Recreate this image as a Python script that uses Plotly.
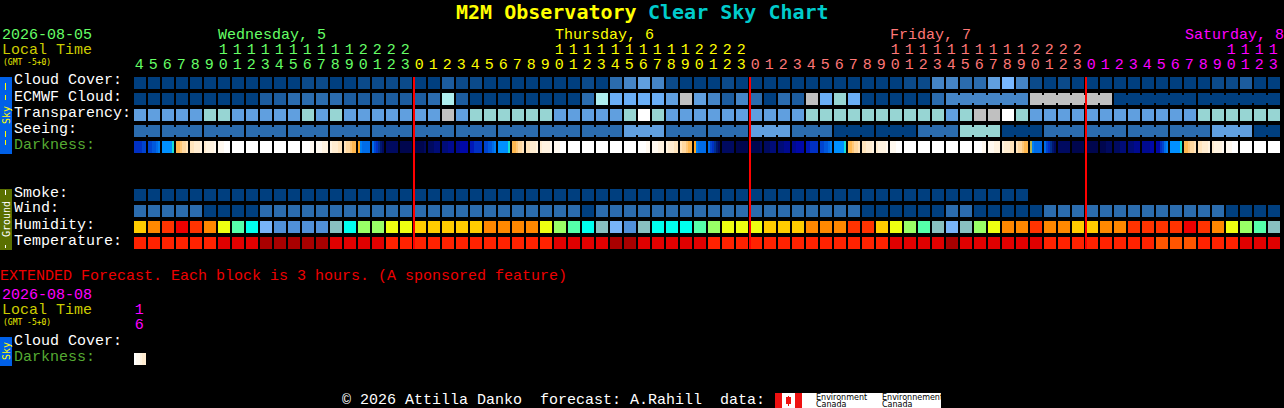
import plotly.graph_objects as go

W, H = 1284, 408
N = 82

# ---- data -------------------------------------------------------------
def cells(s):
    return list(s.replace(" ", ""))

CLOUD_COVER = cells("AAAAAAAAAA AABBAABBBB AACBBAAAAA AABADEFEBA AABAAAAAAA AAAAABBEED DFGEBABAAA AAAAAAABBC AA")
ECMWF_CLOUD = cells("AAAAAAAAAC CDDDDCCCCC CDICAAAAAA AADIHHHHFJ FECEDADCJH THAAAAADEE EEEEJJJJJJ AAAAAAAAAA AA")
TRANSPARENCY = cells("FFFFFTTFFF FFTFTFFFFF FFJFTTTTTT FFFFFTWTFF FFFFFFFFTT TTTTTTTTFT JJWTFFFFFF FFFFFFTTTT TT")
SEEING = cells("DDDDDDDDDD DDDDDDDDDD DDDDDDDDDD DDDDDFFFDD DDDDFFFDDD AAAAAADDDT TTAAADDDDD DDDDDDDFFF AA")
SMOKE = cells("AAAAAAAAAA AAAAAAAAAA AAAAAAAAAA AAAAAAAAAA AAAAAAAAAA AAAAAAAAAA AAAA...... .......... ..")
WIND = cells("DDDDDAAAAD DDDDDDDDDD DDDDDDDDDD DDADDDDDDD DDDDDDDDDD DDAAAAAADD AAAAADDDDD DDDDDDDDAA AA")
HUMIDITY = cells("dcbabceghk jjjjihffee dddddcccce fghikjihhh gfeeedddcc cbbdefgiki feccbccddc cbbbbabcef gi")
TEMPERATURE = cells("nnnnnnmmml llllmmmmnn nnnnnnnnnn mmmmllmmmm mnnnnnnnnn nnnnmmmmlm mmmmmnnnnn nnnooonnnm mm")

SEEING_SPANS = [2] + [3] * 26 + [2]
ECMWF_SPANS = [1] * 58 + [6, 6, 6, 6]

DARKNESS = [
    "gggghh", "hhiijk", "lllllm", "oopqqr", "rrssst", "sttttu", "uuuvvv", "vvvvvv", "vvvvvv", "vvvvvv",
    "vvvvvv", "vvvvvv", "vvvvuu", "uuuttt", "tsssrr", "rqqpoo", "nkjjjj", "jhgxyb", "bbbbbb", "aaaaaa",
    "aaaaab", "bbbccc", "cccddd", "ddeeee", "ffgggg", "hhiijk", "lllllm", "oopqqr", "rrssst", "sttttu",
    "uuuvvv", "vvvvvv", "vvvvvv", "vvvvvv", "vvvvvv", "vvvvvv", "vvvvuu", "uuuttt", "tsssrr", "rqqpoo",
    "nkjjjj", "jhgxyb", "bbbbbb", "aaaaaa", "aaaaab", "bbbccc", "cccddd", "ddeeee", "ffgggg", "hhiijk",
    "lllllm", "oopqqr", "rrssst", "sttttu", "uuuvvv", "vvvvvv", "vvvvvv", "vvvvvv", "vvvvvv", "vvvvvv",
    "vvvvuu", "uuuttt", "tsssrr", "rqqpoo", "wkjjjj", "jhgxyb", "bbbbbb", "aaaaaa", "aaaaaa", "aaabbb",
    "bbbccc", "cccddd", "ddddee", "eeghjk", "lllllm", "oopqqr", "rrssst", "sttttu", "uuuvvv", "vvvvvv",
    "vvvvvv", "vvvvvv",
]
EXT_DARKNESS = ["vuutss"]

HOURS_UNITS = cells("45678901234567890123 012345678901234567890123 012345678901234567890123 01234567890123")
HOURS_TENS = cells("......1111111111 2222 ..........1111111111 2222 ..........1111111111 2222 ..........1111")
DAY_OF_COL = [0] * 20 + [1] * 24 + [2] * 24 + [3] * 14
DAY_COLORS = ["#66ff66", "#ffff00", "#ff7777", "#ff00ff"]
DAY_LABELS = ["Wednesday, 5", "Thursday, 6", "Friday, 7", "Saturday, 8"]
DAY_LABEL_X = [217, 554, 889, 1184]
MIDNIGHT_COLS = [20, 44, 68]
EXT_UNITS = ["6"]
EXT_TENS = ["1"]

ROW_LABELS = [("Cloud Cover:", 81), ("ECMWF Cloud:", 97), ("Transparency:", 113), ("Seeing:", 129),
              ("Smoke:", 193), ("Wind:", 209), ("Humidity:", 225), ("Temperature:", 241),
              ("Cloud Cover:", 341)]
DARK_LABELS = [("Darkness:", 145), ("Darkness:", 357)]

COLORS = {
    "A": "#003f7f", "B": "#0b4a8a", "C": "#1c5c9e", "D": "#2b6cae", "E": "#4585c6", "F": "#609fdf", "G": "#78b8ff",
    "H": "#6aaef5", "I": "#aeeeee", "J": "#c0c0c0", "T": "#97d5d3", "W": "#ffffff",
    "a": "#ee0000", "b": "#ff3300", "c": "#ff8800", "d": "#ffcc00", "e": "#eeff11", "f": "#99ff66", "g": "#55ffaa",
    "h": "#00ffee", "i": "#88c0c0", "j": "#5090d8", "k": "#78b4f8",
    "l": "#a80000", "m": "#e00000", "n": "#ff2200", "o": "#ff5500",
}
DARK_COLORS = {
    "a": "#00064e", "b": "#000a60", "c": "#000c78", "d": "#000a90", "e": "#0008a8", "f": "#0018b8", "g": "#0030c4",
    "h": "#0044d0", "i": "#0058dc", "j": "#006ce8", "k": "#0080f4", "l": "#0090ff", "m": "#18e0d0", "n": "#ffa820",
    "o": "#ffb850", "p": "#ffc878", "q": "#ffd8a0", "r": "#ffe4bc", "s": "#ffecd0", "t": "#fff3e0", "u": "#fff9f0",
    "v": "#ffffff", "w": "#b4b450", "x": "#003090", "y": "#001870",
}

for row in (CLOUD_COVER, ECMWF_CLOUD, TRANSPARENCY, SEEING, SMOKE, WIND, HUMIDITY, TEMPERATURE, DARKNESS,
            HOURS_UNITS, HOURS_TENS):
    assert len(row) == N, len(row)

# ---- scales -----------------------------------------------------------
keys = list(COLORS)
dkeys = list(DARK_COLORS)
def discrete(pal):
    n = len(pal)
    out = []
    for i, c in enumerate(pal):
        out += [[i / n, c], [(i + 1) / n, c]]
    return out
CS = discrete([COLORS[k] for k in keys])
DCS = discrete([DARK_COLORS[k] for k in dkeys])
def zv(ch):
    return keys.index(ch) + 0.5 if ch in COLORS else None
def dz(ch):
    return dkeys.index(ch) + 0.5

# column i is centred on pixel 140 + 14 i, row r on pixel 83 + 16 r
X0 = -140 / 14
X1 = (W - 140) / 14
Y0 = -83 / 16
Y1 = (H - 83) / 16

fig = go.Figure()

main_rows = [CLOUD_COVER, ECMWF_CLOUD, TRANSPARENCY, SEEING, ["."] * N, ["."] * N, ["."] * N,
             SMOKE, WIND, HUMIDITY, TEMPERATURE]
fig.add_trace(go.Heatmap(z=[[zv(c) for c in r] for r in main_rows], x=list(range(N)), y=list(range(11)),
                         colorscale=CS, zmin=0, zmax=len(keys), showscale=False, xgap=2, ygap=4,
                         hoverinfo="skip"))

# bridges joining cells of the same forecast block
def bridge_row(values, spans):
    ends = set()
    p = 0
    for s in spans:
        p += s
        ends.add(p - 1)
    row = []
    for i in range(N - 1):
        row.append(zv(values[i]) if i not in ends else None)
        row.append(None)
    return row[:-1]
bx = []
for i in range(N - 1):
    bx += [i + 3 / 7, i + 4 / 7]
empty = [None] * (2 * (N - 1) - 1)
fig.add_trace(go.Heatmap(z=[empty, bridge_row(ECMWF_CLOUD, ECMWF_SPANS), empty, bridge_row(SEEING, SEEING_SPANS)],
                         x=bx, y=[0, 1, 2, 3], colorscale=CS, zmin=0, zmax=len(keys), showscale=False,
                         xgap=0, ygap=8, hoverinfo="skip"))

# darkness strips with sub-cell gradient
def dark_trace(samples, row):
    xs, zs = [], []
    for i, s in enumerate(samples):
        for k, ch in enumerate(s):
            xs.append(i - 3 / 7 + k / 7)
            zs.append(dz(ch))
        xs.append(i + 3 / 7)
        zs.append(None)
    zs = zs[:-1]
    return go.Heatmap(z=[zs], x=xs, y=[row - 0.375, row + 0.375], colorscale=DCS, zmin=0, zmax=len(dkeys),
                      showscale=False, hoverinfo="skip")
fig.add_trace(dark_trace(DARKNESS, 4))
fig.add_trace(dark_trace(EXT_DARKNESS, 17.25))

# hour digits
MONO = "Liberation Mono"
FS = 15
hour_colors = [DAY_COLORS[d] for d in DAY_OF_COL]
blank = lambda seq: [c if c != "." else "" for c in seq]
text_x = [i - 0.05 for i in range(N)]
fig.add_trace(go.Scatter(x=text_x, y=[(65 - 83) / 16] * N, mode="text", text=HOURS_UNITS,
                         textfont=dict(family=MONO, size=FS, color=hour_colors), textposition="middle center",
                         hoverinfo="skip", showlegend=False))
fig.add_trace(go.Scatter(x=text_x, y=[(50 - 83) / 16] * N, mode="text", text=blank(HOURS_TENS),
                         textfont=dict(family=MONO, size=FS, color=hour_colors), textposition="middle center",
                         hoverinfo="skip", showlegend=False))
fig.add_trace(go.Scatter(x=text_x[:1] * 2, y=[(310 - 83) / 16, (325 - 83) / 16], mode="text", text=EXT_TENS + EXT_UNITS,
                         textfont=dict(family=MONO, size=FS, color="#ff00ff"), textposition="middle center",
                         hoverinfo="skip", showlegend=False))

# ---- text and decoration placed in picture pixels ---------------------
anns = []
def T(text, x, y, color="#ffffff", size=FS, family=MONO, anchor="left", angle=0, bold=False):
    anns.append(dict(text=f"<b>{text}</b>" if bold else text, x=x / W, y=1 - y / H, xref="paper", yref="paper",
                     xanchor=anchor, yanchor="middle", showarrow=False, textangle=angle, borderpad=0,
                     font=dict(family=family, size=size, color=color)))

T("M2M Observatory", 455, 12, "#ffff00", 20, "DejaVu Sans Mono", bold=True)
T("Clear Sky Chart", 647, 12, "#00cccc", 20, "DejaVu Sans Mono", bold=True)
T("2026-08-05", 1, 35, "#66ff66")
T("Local Time", 1, 50, "#cccc00")
T("(GMT -5+0)", 2, 62, "#eeee00", 8, "DejaVu Sans Mono")
for lab, x, c in zip(DAY_LABELS, DAY_LABEL_X, DAY_COLORS):
    T(lab, x, 35, c)
for lab, y in ROW_LABELS:
    T(lab, 13, y)
for lab, y in DARK_LABELS:
    T(lab, 13, y, "#55aa33")
T("EXTENDED Forecast. Each block is 3 hours. (A sponsored feature)", -1, 276, "#ee0000")
T("2026-08-08", 1, 295, "#ff00ff")
T("Local Time", 1, 310, "#cccc00")
T("(GMT -5+0)", 2, 322, "#eeee00", 8, "DejaVu Sans Mono")
T("© 2026 Attilla Danko  forecast: A.Rahill  data:", 341, 400)
T("Sky", 6, 115, "#ffff00", 10, "DejaVu Sans Mono", anchor="center", angle=-90)
T("Ground", 6, 219, "#ffffff", 10, "DejaVu Sans Mono", anchor="center", angle=-90)
T("Sky", 6, 351, "#ffff00", 10, "DejaVu Sans Mono", anchor="center", angle=-90)
T("Environment", 815, 397, "#000000", 8, "DejaVu Sans")
T("Canada", 815, 404, "#000000", 8, "DejaVu Sans")
T("Environnement", 881, 397, "#000000", 8, "DejaVu Sans")
T("Canada", 881, 404, "#000000", 8, "DejaVu Sans")

shapes = []
def R(x0, y0, x1, y1, c, layer="below"):
    shapes.append(dict(type="rect", xref="paper", yref="paper", x0=x0 / W, x1=x1 / W, y0=1 - y0 / H, y1=1 - y1 / H,
                       fillcolor=c, line_width=0, layer=layer))
R(0, 77, 12, 154, "#0060e8")
R(0, 337, 12, 366, "#0060e8")
R(0, 189, 12, 250, "#5a7000")
for y0, y1 in [(83, 90), (95, 100), (131, 137), (140, 145)]:
    R(5, y0, 6, y1, "#ffff00", "above")
for y0, y1 in [(190, 195), (245, 248)]:
    R(5, y0, 6, y1, "#ffffff", "above")
R(775, 393, 941, 408, "#ffffff")
R(775, 393, 782, 408, "#ee1111")
R(795, 393, 802, 408, "#ee1111")
R(786, 397, 791, 404, "#ee1111")
R(788, 396, 789, 406, "#ee1111")
for c in MIDNIGHT_COLS:
    xx = c - 0.5 + 1 / 14
    fig.add_shape(type="line", x0=xx, x1=xx, y0=-0.375, y1=10.375, xref="x", yref="y",
                  line=dict(color="#ff0000", width=2), layer="above")

for s in shapes:
    fig.add_shape(**s)

fig.update_layout(
    width=W, height=H, margin=dict(l=0, r=0, t=0, b=0), paper_bgcolor="#000000", plot_bgcolor="#000000",
    showlegend=False, annotations=anns,
    xaxis=dict(range=[X0, X1], visible=False, fixedrange=True),
    yaxis=dict(range=[Y1, Y0], visible=False, fixedrange=True),
)
fig.write_html("out.html", config=dict(displayModeBar=False),
               post_script="document.body.style.margin='0';document.body.style.background='#000';document.body.style.overflow='hidden';")
